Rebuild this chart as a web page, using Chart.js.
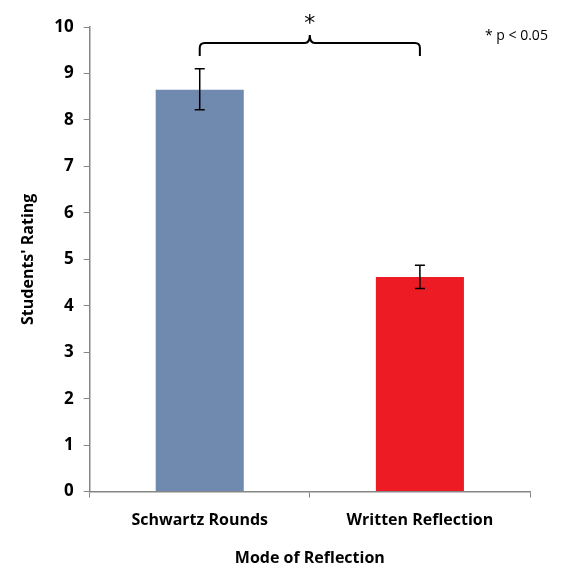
<!DOCTYPE html>
<html>
<head>
<meta charset="utf-8">
<script src="https://cdn.jsdelivr.net/npm/chart.js@4/dist/chart.umd.min.js"></script>
<style>
  html, body { margin: 0; padding: 0; background: #fff; }
  #wrap { width: 562px; height: 572px; }
</style>
</head>
<body>
<div id="wrap"><canvas id="chart"></canvas></div>
<script>
'use strict';

const categories = ['Schwartz Rounds', 'Written Reflection'];
const ratings    = [8.65, 4.62];
const errLow     = [8.22, 4.37];
const errHigh    = [9.10, 4.87];
const barColors  = ['#7089ae', '#ed1c24'];
const yTicks     = [0, 1, 2, 3, 4, 5, 6, 7, 8, 9, 10];

const FONT = '"Open Sans", Lato, sans-serif';

/* ─── error bars + significance brace ───────────────────── */
const annotations = {
  id: 'annotations',
  afterDatasetsDraw(chart) {
    const { ctx, scales: { x, y } } = chart;
    ctx.save();
    ctx.strokeStyle = '#000';
    ctx.lineWidth = 1.5;

    // error bars
    categories.forEach((c, i) => {
      const cx = x.getPixelForValue(i);
      const top = y.getPixelForValue(errHigh[i]);
      const bot = y.getPixelForValue(errLow[i]);
      ctx.beginPath();
      ctx.moveTo(cx, top); ctx.lineTo(cx, bot);
      ctx.moveTo(cx - 5, top); ctx.lineTo(cx + 5, top);
      ctx.moveTo(cx - 5, bot); ctx.lineTo(cx + 5, bot);
      ctx.stroke();
    });

    // brace
    const x1 = x.getPixelForValue(0);
    const x2 = x.getPixelForValue(1);
    const mid = (x1 + x2) / 2;
    const yb = y.getPixelForValue(10) + 16;
    const r = 5;
    ctx.lineWidth = 2;
    ctx.beginPath();
    ctx.moveTo(x1, yb + 13);
    ctx.lineTo(x1, yb + r);
    ctx.quadraticCurveTo(x1, yb, x1 + r, yb);
    ctx.lineTo(mid - r, yb);
    ctx.quadraticCurveTo(mid, yb, mid, yb - r - 3);
    ctx.quadraticCurveTo(mid, yb, mid + r, yb);
    ctx.lineTo(x2 - r, yb);
    ctx.quadraticCurveTo(x2, yb, x2, yb + r);
    ctx.lineTo(x2, yb + 13);
    ctx.stroke();

    ctx.fillStyle = '#000';
    ctx.textAlign = 'center';
    ctx.textBaseline = 'middle';
    ctx.font = '22px "DejaVu Sans", sans-serif';
    ctx.fillText('*', mid, yb - 19);

    ctx.font = '14px "Open Sans", sans-serif';
    ctx.textAlign = 'left';
    ctx.fillText('* p < 0.05', 485, 36);
    ctx.restore();
  }
};

new Chart(document.getElementById('chart').getContext('2d'), {
  type: 'bar',
  data: {
    labels: categories,
    datasets: [{
      data: ratings,
      backgroundColor: barColors,
      borderWidth: 0,
      categoryPercentage: 1,
      barPercentage: 0.4,
    }],
  },
  options: {
    responsive: true,
    maintainAspectRatio: false,
    animation: false,
    devicePixelRatio: 1,
    layout: { padding: { top: 27, right: 32, bottom: 0, left: 15 } },
    plugins: {
      legend: { display: false },
      tooltip: { enabled: false },
    },
    scales: {
      x: {
        offset: true,
        border: { color: '#868686', width: 1.5 },
        grid: { offset: true, drawOnChartArea: false, tickLength: 6, color: '#868686' },
        ticks: { color: '#000', padding: 13, font: { family: FONT, size: 16, weight: 'bold' } },
        title: {
          display: true, text: 'Mode of Reflection', color: '#000', padding: { top: 6 },
          font: { family: FONT, size: 16, weight: 'bold' },
        },
      },
      y: {
        min: 0,
        max: 10,
        afterBuildTicks(axis) { axis.ticks = yTicks.map(v => ({ value: v })); },
        border: { color: '#868686', width: 1.5 },
        grid: { drawOnChartArea: false, tickLength: 6, color: '#868686' },
        ticks: { color: '#000', padding: 10, font: { family: FONT, size: 17, weight: 'bold' } },
        title: {
          display: true, text: "Students' Rating", color: '#000', padding: { bottom: 6 },
          font: { family: FONT, size: 16, weight: 'bold' },
        },
      },
    },
  },
  plugins: [annotations],
});
</script>
</body>
</html>
